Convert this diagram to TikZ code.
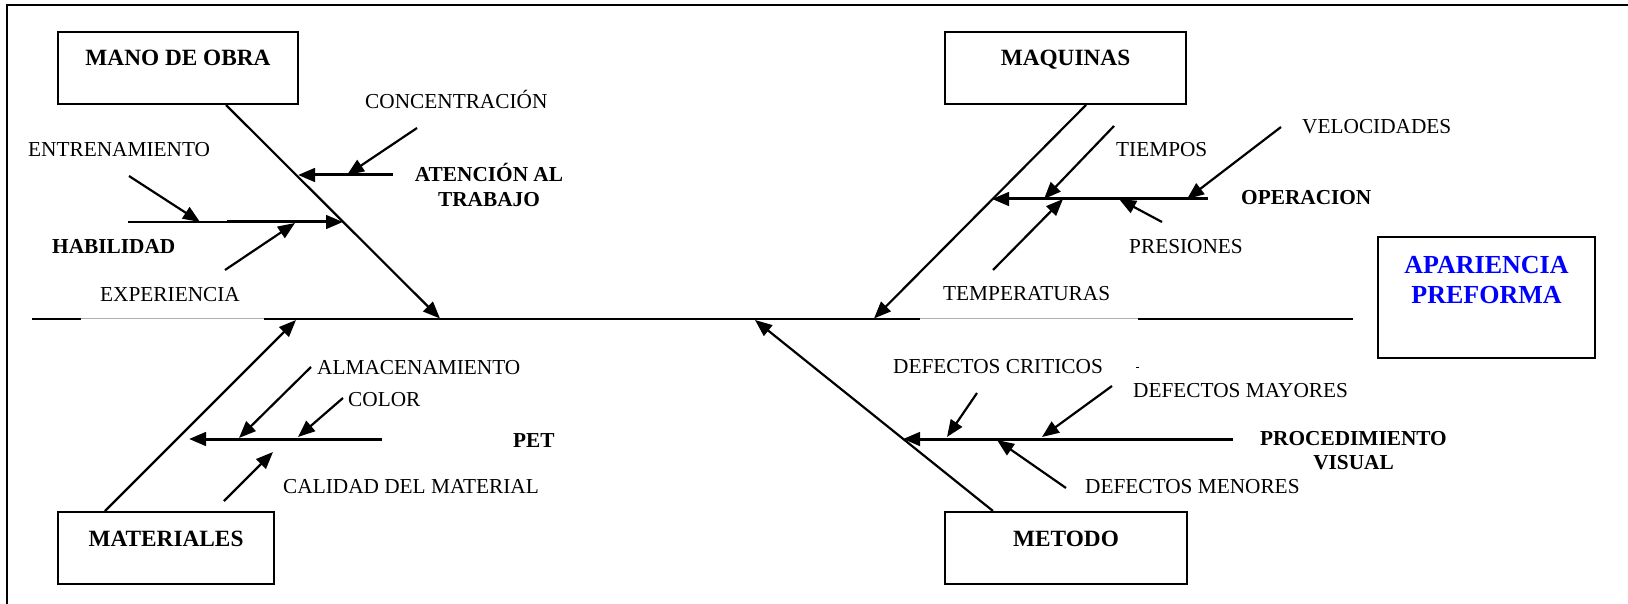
\documentclass[tikz,border=0pt]{standalone}
\usepackage{fontspec}
\setmainfont{Liberation Serif}
\usetikzlibrary{arrows.meta}
\definecolor{apblue}{RGB}{0,0,255}
\definecolor{faint}{RGB}{175,175,175}
\begin{document}
\begin{tikzpicture}[x=1pt,y=-1pt,
  lbl/.style={inner sep=0pt, anchor=base west, font=\fontsize{21.3}{24.5}\selectfont},
  blbl/.style={inner sep=0pt, anchor=base west, font=\fontsize{21.3}{24.5}\selectfont\bfseries},
  mlbl/.style={inner sep=0pt, anchor=base, font=\fontsize{21.3}{24.5}\selectfont\bfseries},
  catbox/.style={draw, line width=2pt, inner sep=0pt, anchor=north west,
    text height=34pt, text depth=38pt, font=\fontsize{23.3}{26}\selectfont\bfseries},
  effbox/.style={draw, line width=2pt, inner sep=0pt, anchor=north west,
    text height=36pt, text depth=85pt, text=apblue, font=\fontsize{26}{30}\selectfont\bfseries},
  tip/.style={-{Triangle[length=17pt,width=13.5pt]}},
  bone/.style={tip, line width=2.2pt},
  rib/.style={tip, line width=3pt},
  twig/.style={tip, line width=2.2pt},
  spine/.style={line width=2pt},
  gap/.style={line width=1pt, draw=faint},
]
\useasboundingbox (0,0) rectangle (1628,604);
% outer frame (top and left edges visible)
\draw[line width=2pt] (7,604) -- (7,5) -- (1628,5);

% category boxes
\node[catbox, minimum width=240pt] (mano) at (57,31) {MANO DE OBRA};
\node[catbox, minimum width=241pt] (maq) at (944,31) {MAQUINAS};
\node[catbox, minimum width=216pt] (mat) at (57,511) {MATERIALES};
\node[catbox, minimum width=242pt] (met) at (944,511) {METODO};
\node[effbox, minimum width=217pt] (apar) at (1377,236)
  {\begin{tabular}[t]{@{}c@{}}APARIENCIA\\PREFORMA\end{tabular}};

% spine
\coordinate (sL) at (32,318.5);
\coordinate (g1a) at (81,318.5);
\coordinate (g1b) at (264,318.5);
\coordinate (g2a) at (920,318.5);
\coordinate (g2b) at (1138,318.5);
\coordinate (sR) at (1353,318.5);
\draw[spine] (sL) -- (g1a);
\draw[gap] (g1a) -- (g1b);
\draw[spine] (g1b) -- (g2a);
\draw[gap] (g2a) -- (g2b);
\draw[spine] (g2b) -- (sR);

% main bones
\coordinate (tMano) at (440,318.5);
\coordinate (tMaq) at (874,318.5);
\coordinate (tMat) at (296,320);
\coordinate (tMet) at (755,320);
\draw[bone] ([xshift=169pt]mano.south west) -- (tMano);
\draw[bone] ([xshift=142pt]maq.south west) -- (tMaq);
\draw[bone] ([xshift=48pt]mat.north west) -- (tMat);
\draw[bone] ([xshift=49pt]met.north west) -- (tMet);

% ---------- MANO DE OBRA ----------
\node[lbl] (conc) at (365,109) {CONCENTRACIÓN};
\node[lbl] (entr) at (28,157) {ENTRENAMIENTO};
\node[lbl] (expe) at (100,301) {EXPERIENCIA};
\node[blbl] (habi) at (52,254) {HABILIDAD};
\node[mlbl] (aten) at (489,182) {\begin{tabular}[t]{@{}c@{}}ATENCIÓN AL\\TRABAJO\end{tabular}};

\coordinate (atE) at (393,175);
\coordinate (atT) at (298,175);
\draw[rib] (atE) -- (atT);
\coordinate (coS) at (417,128);
\coordinate (coT) at (347,175);
\draw[twig] (coS) -- (coT);

\coordinate (haE) at (128,222);
\coordinate (haM) at (227,222);
\coordinate (haT) at (343,222);
\draw[line width=1.3pt] (haE) -- (haM);
\draw[rib] (haM) -- (haT);
\coordinate (enS) at (129,176);
\coordinate (enT) at (200,222);
\draw[twig] (enS) -- (enT);
\coordinate (exS) at (225,270);
\coordinate (exT) at (295,223);
\draw[twig] (exS) -- (exT);

% ---------- MAQUINAS ----------
\node[lbl] (tiem) at (1116,157) {TIEMPOS};
\node[lbl] (velo) at (1302,134) {VELOCIDADES};
\node[blbl] (oper) at (1241,205) {OPERACION};
\node[lbl] (pres) at (1129,254) {PRESIONES};
\node[lbl] (temp) at (943,300) {TEMPERATURAS};

\coordinate (opE) at (1208,199);
\coordinate (opT) at (992,199);
\draw[rib] (opE) -- (opT);
\coordinate (tiS) at (1114,126);
\coordinate (tiT) at (1044,199);
\draw[twig] (tiS) -- (tiT);
\coordinate (veS) at (1281,127);
\coordinate (veT) at (1187,199);
\draw[twig] (veS) -- (veT);
\coordinate (prS) at (1162,222);
\coordinate (prT) at (1119,199);
\draw[twig] (prS) -- (prT);
\coordinate (teS) at (993,270);
\coordinate (teT) at (1063,199);
\draw[twig] (teS) -- (teT);

% ---------- MATERIALES ----------
\node[lbl] (alma) at (317,374) {ALMACENAMIENTO};
\node[lbl] (colo) at (348,406) {COLOR};
\node[blbl] (pet) at (513,447) {PET};
\node[lbl] (cali) at (283,493) {CALIDAD DEL MATERIAL};

\coordinate (peE) at (382,439);
\coordinate (peT) at (189,439);
\draw[rib] (peE) -- (peT);
\coordinate (alS) at (311,367);
\coordinate (alT) at (239,438);
\draw[twig] (alS) -- (alT);
\coordinate (clS) at (343,398);
\coordinate (clT) at (298,437);
\draw[twig] (clS) -- (clT);
\coordinate (caS) at (224,501);
\coordinate (caT) at (273,452);
\draw[twig] (caS) -- (caT);

% ---------- METODO ----------
\node[lbl] (crit) at (893,373) {DEFECTOS CRITICOS};
\node[lbl] (mayo) at (1133,397) {DEFECTOS MAYORES};
\node[lbl] (meno) at (1085,493) {DEFECTOS MENORES};
\node[mlbl] (proc) at (1353.5,445) {\begin{tabular}[t]{@{}c@{}}PROCEDIMIENTO\\VISUAL\end{tabular}};

\coordinate (pcE) at (1233,439);
\coordinate (pcT) at (903,439);
\draw[rib] (pcE) -- (pcT);
\coordinate (crS) at (977,393);
\coordinate (crT) at (947,437);
\draw[twig] (crS) -- (crT);
\coordinate (maS) at (1112,386);
\coordinate (maT) at (1042,437);
\draw[twig] (maS) -- (maT);
\coordinate (meS) at (1066,488);
\coordinate (meT) at (997,440);
\draw[twig] (meS) -- (meT);
\coordinate (dotA) at (1136,367);
\coordinate (dotB) at (1138.5,367);
\draw[line width=0.8pt] (dotA) -- (dotB);
\end{tikzpicture}
\end{document}
